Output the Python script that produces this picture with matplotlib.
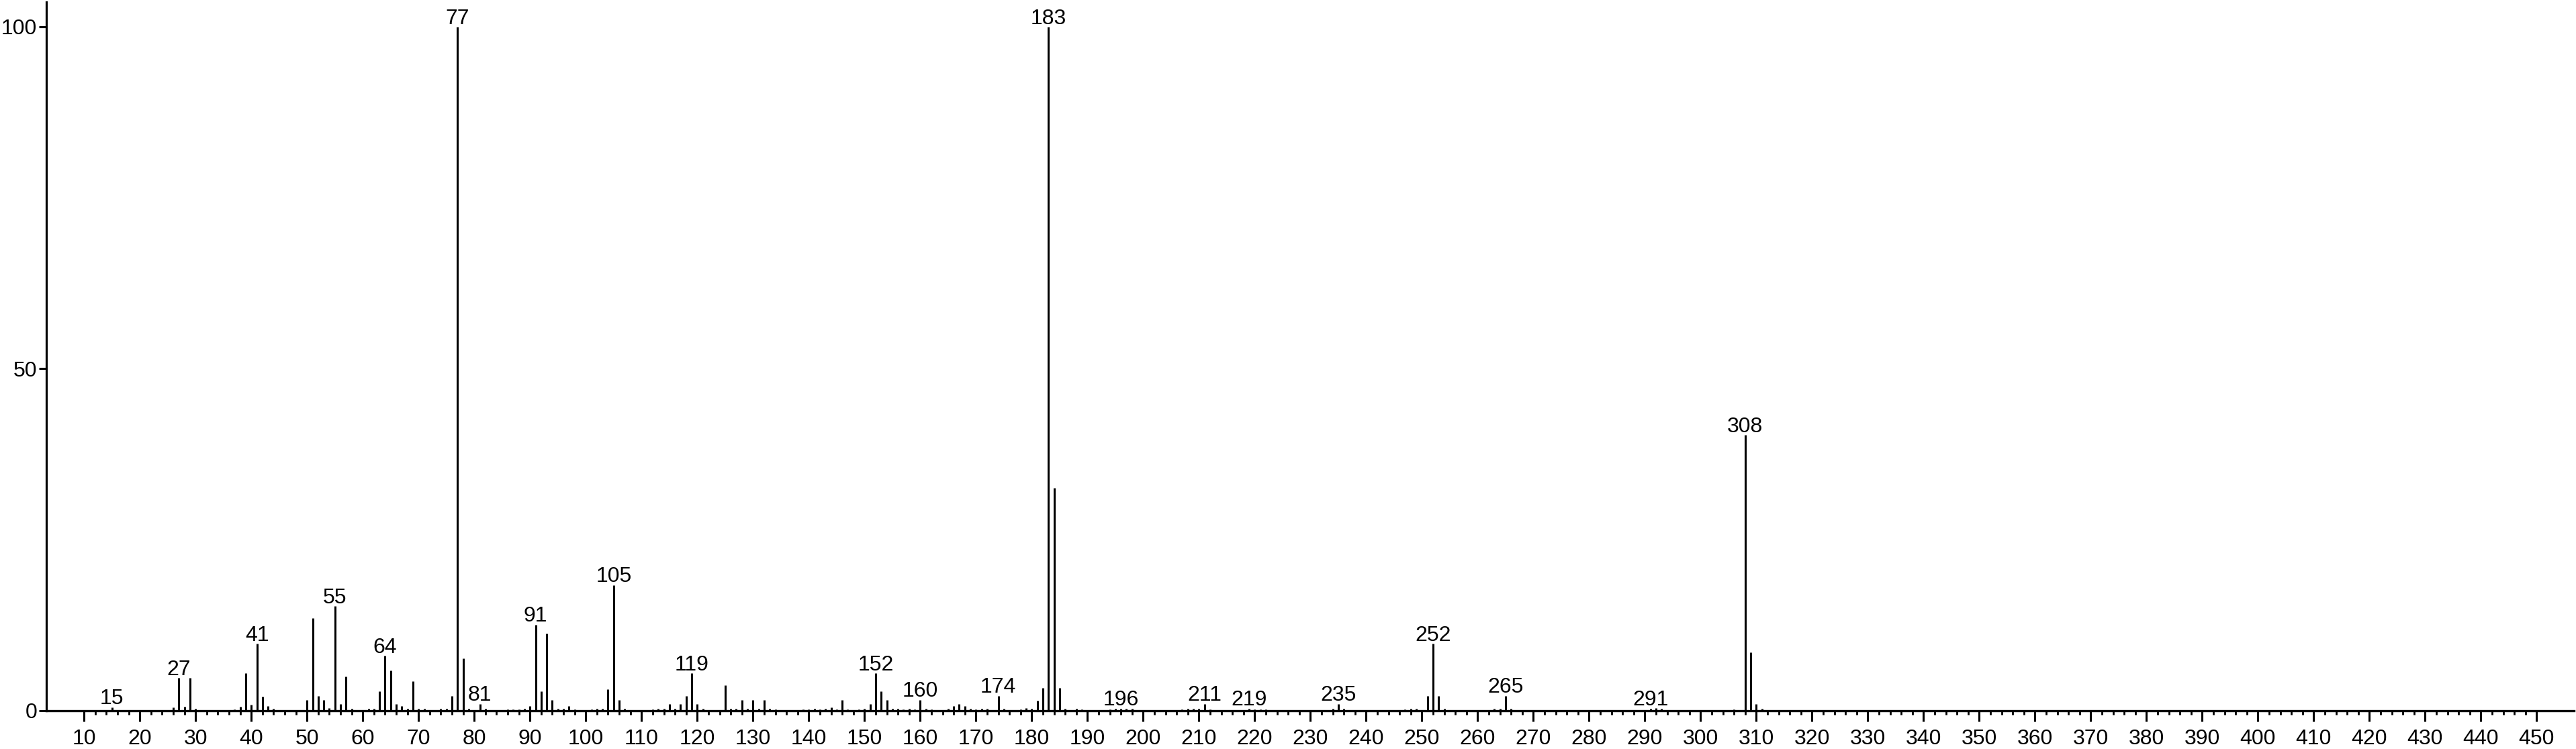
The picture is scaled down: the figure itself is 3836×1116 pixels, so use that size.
import matplotlib
matplotlib.use("Agg")
import matplotlib.pyplot as plt
from matplotlib.ticker import FixedLocator

mz = [15, 26, 27, 28, 29, 30, 37, 38, 39, 40, 41, 42, 43, 44,
      50, 51, 52, 53, 54, 55, 56, 57, 58, 61, 62, 63, 64, 65, 66, 67, 68, 69, 70, 71,
      74, 75, 76, 77, 78, 79, 81, 82, 86, 87, 88, 89, 90, 91, 92, 93, 94, 95, 96, 97, 98,
      101, 102, 103, 104, 105, 106, 107, 112, 113, 114, 115, 116, 117, 118, 119, 120, 121,
      125, 126, 127, 128, 129, 130, 131, 132, 133, 134, 139, 140, 141, 142, 143, 144, 145,
      146, 147, 149, 150, 151, 152, 153, 154, 155, 156, 157, 158, 159, 160, 161, 162,
      165, 166, 167, 168, 169, 170, 171, 172, 174, 175, 178, 179, 180, 181, 182, 183, 184,
      185, 186, 188, 189, 194, 195, 196, 197, 198, 207, 208, 209, 210, 211, 212,
      219, 220, 221, 222, 234, 235, 236, 247, 248, 249, 251, 252, 253, 254,
      263, 264, 265, 266, 291, 292, 293, 306, 308, 309, 310, 311]
intensity = [0.5, 0.5, 4.8, 0.6, 4.8, 0.3, 0.2, 0.6, 5.5, 0.9, 9.8, 2.1, 0.7, 0.3,
             1.6, 13.5, 2.2, 1.6, 0.4, 15.3, 1.0, 5.0, 0.3, 0.3, 0.3, 2.8, 8.0, 5.9, 1.0, 0.7, 0.3, 4.3, 0.3, 0.3,
             0.3, 0.3, 2.2, 100.0, 7.7, 0.3, 1.0, 0.3, 0.2, 0.2, 0.2, 0.3, 0.7, 12.6, 2.8, 11.3, 1.6, 0.3, 0.3, 0.7, 0.2,
             0.2, 0.3, 0.3, 3.1, 18.4, 1.6, 0.3, 0.2, 0.3, 0.3, 1.0, 0.3, 1.0, 2.2, 5.5, 1.0, 0.3,
             3.7, 0.3, 0.3, 1.6, 0.3, 1.6, 0.3, 1.6, 0.3, 0.2, 0.2, 0.2, 0.3, 0.2, 0.3, 0.5, 0.2,
             1.6, 0.2, 0.2, 0.3, 1.0, 5.5, 2.8, 1.6, 0.3, 0.3, 0.2, 0.3, 0.2, 1.6, 0.3, 0.2,
             0.3, 0.7, 1.0, 0.7, 0.3, 0.2, 0.3, 0.3, 2.2, 0.3, 0.2, 0.4, 0.3, 1.5, 3.3, 100.0, 32.6,
             3.3, 0.3, 0.3, 0.2, 0.2, 0.3, 0.3, 0.3, 0.3, 0.2, 0.3, 0.3, 0.3, 1.0, 0.2,
             0.3, 0.2, 0.2, 0.2, 0.3, 1.0, 0.3, 0.2, 0.3, 0.3, 2.2, 9.8, 2.2, 0.3,
             0.3, 0.3, 2.2, 0.3, 0.3, 0.4, 0.3, 0.2, 40.3, 8.5, 1.0, 0.3]
labeled = [15, 27, 41, 55, 64, 77, 81, 91, 105, 119, 152, 160, 174, 183,
           196, 211, 219, 235, 252, 265, 291, 308]

x_major = list(range(10, 451, 10))
x_minor = [v for v in range(10, 451, 2) if v % 10 != 0]
y_ticks = [0, 50, 100]

FONT = ["Liberation Sans", "DejaVu Sans"]

fig = plt.figure(figsize=(38.36, 11.16), dpi=100)
ax = fig.add_axes([69 / 3836, 1 - 1059 / 1116, (3833 - 69) / 3836, (1059 - 3.3) / 1116])

ax.vlines(mz, 0, intensity, colors="black", linewidth=2.2)

lookup = dict(zip(mz, intensity))
for m in labeled:
    ax.annotate(str(m), xy=(m, lookup[m]), xytext=(0, 3.2), textcoords="offset points",
                ha="center", va="baseline", fontsize=23, family=FONT, color="black")

ax.set_xlim(3.22, 456.7)
ax.set_ylim(0, 103.6)

ax.xaxis.set_major_locator(FixedLocator(x_major))
ax.xaxis.set_minor_locator(FixedLocator(x_minor))
ax.yaxis.set_major_locator(FixedLocator(y_ticks))
ax.set_xticklabels([str(v) for v in x_major], family=FONT, fontsize=23)
ax.set_yticklabels([str(v) for v in y_ticks], family=FONT, fontsize=23)

ax.tick_params(axis="x", which="major", direction="out", length=11.5, width=2.2, pad=8.0)
ax.tick_params(axis="x", which="minor", direction="out", length=4.3, width=2.0)
ax.tick_params(axis="y", which="major", direction="out", length=7.9, width=2.2, pad=2.0)

for s in ["top", "right"]:
    ax.spines[s].set_visible(False)
ax.spines["left"].set_linewidth(2.3)
ax.spines["bottom"].set_linewidth(2.4)
ax.spines["bottom"].set_zorder(5)

fig.savefig("out.png", dpi=100, facecolor="white")
